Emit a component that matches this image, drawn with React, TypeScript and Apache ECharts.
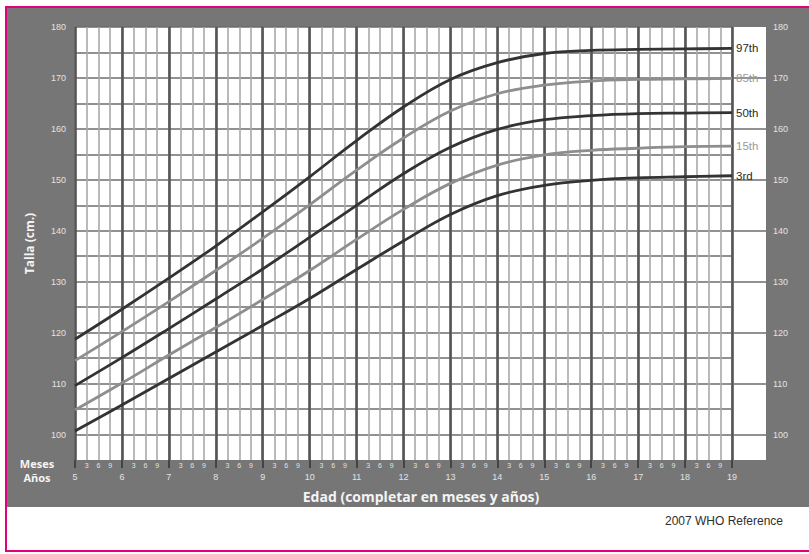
import React, { useEffect, useRef } from 'react';
import * as echarts from 'echarts';

const ages = [5, 6, 7, 8, 9, 10, 11, 12, 13, 14, 15, 16, 17, 18, 19];
const p97 = [118.7, 124.6, 130.7, 137.0, 143.7, 150.6, 157.7, 164.3, 169.7, 173.0, 174.8, 175.4, 175.6, 175.7, 175.8];
const p85 = [114.5, 120.2, 126.1, 132.2, 138.5, 145.1, 151.9, 158.2, 163.5, 166.9, 168.6, 169.4, 169.7, 169.8, 169.9];
const p50 = [109.6, 115.1, 120.8, 126.6, 132.5, 138.7, 145.0, 151.2, 156.4, 159.9, 161.8, 162.6, 163.0, 163.1, 163.2];
const p15 = [104.8, 110.1, 115.6, 121.0, 126.5, 132.2, 138.3, 144.2, 149.3, 152.9, 154.9, 155.8, 156.2, 156.5, 156.6];
const p3 = [100.7, 105.8, 111.0, 116.2, 121.4, 126.7, 132.4, 138.0, 143.2, 146.9, 148.9, 149.9, 150.4, 150.6, 150.8];

const curveNames = ['97th', '85th', '50th', '15th', '3rd'];
const monthLabels = ['', '3', '6', '9'];
const tenLines = [100, 110, 120, 130, 140, 150, 160, 170];

const DARK = '#333333';
const GRAY = '#8e8e8e';

export default function App() {
  const ref = useRef<HTMLDivElement>(null);

  useEffect(() => {
    const chart = echarts.init(ref.current!, null, { renderer: 'svg' });
    const curves = [
      { name: curveNames[0], data: p97, color: DARK },
      { name: curveNames[1], data: p85, color: GRAY },
      { name: curveNames[2], data: p50, color: DARK },
      { name: curveNames[3], data: p15, color: GRAY },
      { name: curveNames[4], data: p3, color: DARK },
    ];
    const tenFmt = (v: number) => (Math.round(v) % 10 === 0 ? String(v) : '');
    const option: any = {
      animation: false,
      backgroundColor: 'transparent',
      grid: [
        { left: 75, top: 27, width: 657, height: 433, show: true, backgroundColor: '#ffffff', borderWidth: 0 },
        { left: 733, top: 27, width: 33, height: 433, show: true, backgroundColor: '#ffffff', borderWidth: 0 },
      ],
      xAxis: [
        {
          gridIndex: 0, type: 'value', position: 'bottom', min: 5, max: 19, interval: 0.25,
          axisLine: { show: false }, axisTick: { show: false },
          splitLine: { show: true, lineStyle: { color: '#a9a9a9', width: 1.6 } },
          axisLabel: {
            color: '#e2e2e2', fontSize: 7, margin: 2, fontFamily: 'Liberation Sans',
            formatter: (v: number) => monthLabels[Math.round((v - Math.floor(v)) * 4)] || '',
          },
        },
        {
          gridIndex: 0, type: 'value', position: 'bottom', offset: 0, min: 5, max: 19, interval: 1,
          axisLine: { show: false },
          axisTick: { show: true, length: 8, lineStyle: { color: '#444444', width: 2 } },
          splitLine: { show: true, lineStyle: { color: '#555555', width: 2.6 } },
          axisLabel: { color: '#e2e2e2', fontSize: 9, margin: 12, fontFamily: 'Liberation Sans' },
        },
        { gridIndex: 1, type: 'value', min: 19, max: 19.7, show: false },
      ],
      yAxis: [
        {
          gridIndex: 0, type: 'value', min: 95, max: 180, interval: 5, position: 'left',
          axisLine: { show: false }, axisTick: { show: false },
          splitLine: { show: true, showMinLine: false, lineStyle: { color: '#6c6c6c', width: 1.6 } },
          axisLabel: { color: '#e2e2e2', fontSize: 9, margin: 9, fontFamily: 'Liberation Sans', formatter: tenFmt },
          name: 'Talla (cm.)', nameLocation: 'middle', nameGap: 40, nameRotate: 90,
          nameTextStyle: { color: '#f4f4f4', fontSize: 12, fontWeight: 'bold', fontFamily: 'Open Sans' },
        },
        {
          gridIndex: 1, type: 'value', min: 95, max: 180, interval: 5, position: 'right',
          axisLine: { show: false }, axisTick: { show: false }, splitLine: { show: false },
          axisLabel: { color: '#e2e2e2', fontSize: 9, margin: 7, fontFamily: 'Liberation Sans', formatter: tenFmt },
        },
      ],
      series: [
        ...curves.map((c) => ({
          type: 'line', name: c.name, xAxisIndex: 0, yAxisIndex: 0,
          smooth: 0.4, symbol: 'none', showSymbol: false, silent: true, z: 5,
          data: ages.map((a, i) => [a, c.data[i]]),
          lineStyle: { color: c.color, width: 2.8 },
          itemStyle: { color: c.color },
          endLabel: {
            show: true, formatter: c.name, color: c.color === DARK ? '#2a2a2a' : '#9a9a9a',
            fontSize: 11.5, fontFamily: 'Liberation Sans', distance: 4,
          },
        })),
        {
          type: 'line', xAxisIndex: 2, yAxisIndex: 1, data: [], silent: true,
          markLine: {
            silent: true, symbol: ['none', 'none'], label: { show: false },
            lineStyle: { color: '#6c6c6c', width: 1.6, type: 'solid' },
            data: tenLines.map((v) => ({ yAxis: v })),
          },
        },
      ],
      graphic: [
        { type: 'text', x: 37, y: 463, style: { text: 'Meses', fill: '#f4f4f4', font: 'bold 11px "Open Sans"', textAlign: 'center', textVerticalAlign: 'middle' } },
        { type: 'text', x: 37, y: 477, style: { text: 'Años', fill: '#f4f4f4', font: 'bold 11px "Open Sans"', textAlign: 'center', textVerticalAlign: 'middle' } },
        { type: 'text', x: 421, y: 496, style: { text: 'Edad (completar en meses y años)', fill: '#f4f4f4', font: 'bold 14px "Open Sans"', textAlign: 'center', textVerticalAlign: 'middle' } },
        { type: 'text', x: 724, y: 521, style: { text: '2007 WHO Reference', fill: '#2e2e2e', font: '12px "Liberation Sans"', textAlign: 'center', textVerticalAlign: 'middle' } },
      ],
    };
    chart.setOption(option);
    return () => chart.dispose();
  }, []);

  return (
    <div style={{ position: 'fixed', left: 0, top: 0, width: 809, height: 554, background: '#ffffff', overflow: 'hidden' }}>
      <div style={{ position: 'absolute', left: 5, top: 6, width: 804, height: 546, borderTop: '2px solid #e4007c', borderLeft: '2px solid #e4007c', borderBottom: '2px solid #e4007c', boxSizing: 'border-box' }} />
      <div style={{ position: 'absolute', left: 7, top: 8, width: 802, height: 499, background: '#767676' }} />
      <div ref={ref} style={{ position: 'absolute', left: 0, top: 0, width: 809, height: 554 }} />
    </div>
  );
}
